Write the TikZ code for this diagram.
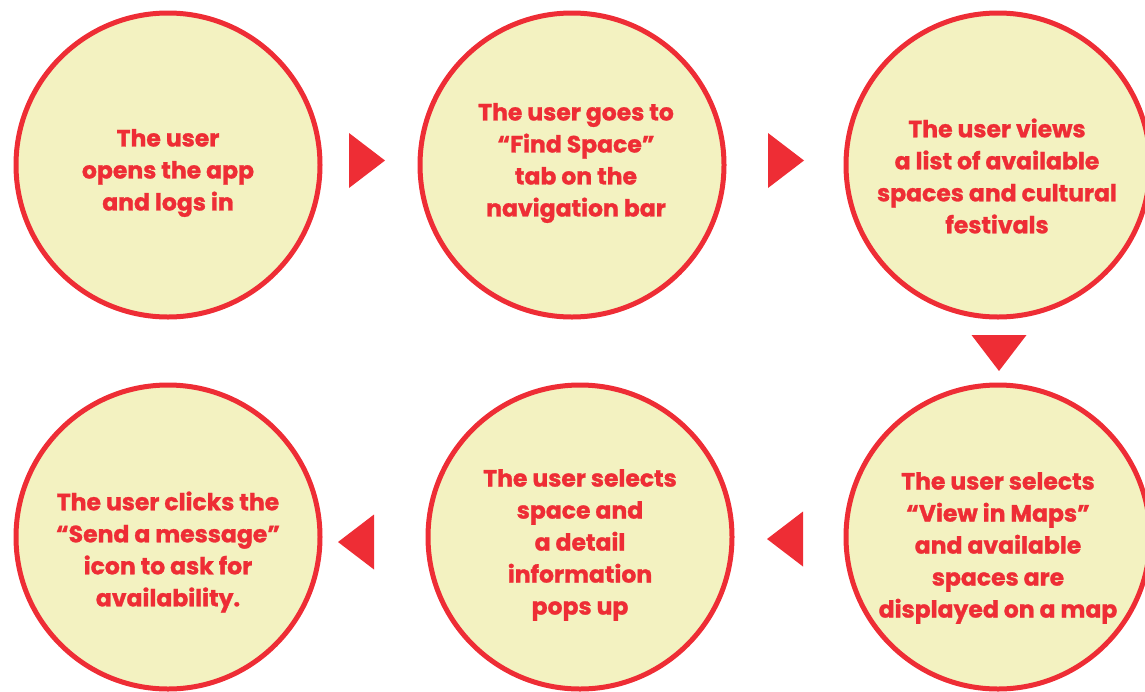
\documentclass[tikz,border=0pt]{standalone}
\usepackage{fontspec}
\newfontfamily\stepfont{Poppins}[BoldFeatures={FakeBold=1.2}]
\definecolor{flowred}{HTML}{EE2D35}
\definecolor{flowfill}{HTML}{F3F2C1}
\tikzset{
  stepcircle/.style={circle, draw=flowred, fill=flowfill, line width=5pt,
    minimum size=304pt, inner sep=0pt},
  steptext/.style={text=flowred, align=center, font=\stepfont\bfseries\fontsize{23.5}{32}\selectfont},
  flowtri/.pic={\fill[flowred] (18,0) -- (-18,27.5) -- (-18,-27.5) -- cycle;}
}
\begin{document}
\begin{tikzpicture}[x=1pt,y=-1pt]
\useasboundingbox (0,0) rectangle (1145,691);
\clip (0,0) rectangle (1145,691);
% the six steps
\node[stepcircle] (c1) at (168,165) {};
\node[stepcircle] (c2) at (572,165) {};
\node[stepcircle] (c3) at (998,165) {};
\node[stepcircle] (c4) at (168,537) {};
\node[stepcircle] (c5) at (580,537) {};
\node[stepcircle] (c6) at (998,537) {};
% step texts
\node[steptext] (t1) at (168,173) {The user\\opens the app\\and logs in};
\node[steptext] (t2) at (576,163) {The user goes to\\“Find Space”\\tab on the\\navigation bar};
\node[steptext] (t3) at (997,176) {The user views\\a list of available\\spaces and cultural\\festivals};
\node[steptext] (t4) at (168,552) {The user clicks the\\“Send a message”\\icon to ask for\\availability.};
\node[steptext] (t5) at (580,545) {The user selects\\space and\\a detail\\information\\pops up};
\node[steptext] (t6) at (998,548) {The user selects\\“View in Maps”\\and available\\spaces are\\displayed on a map};
% direction markers between steps
\coordinate (a12) at (367,160.5);
\coordinate (a23) at (786,160.5);
\coordinate (a36) at (999,353);
\coordinate (a65) at (785,539);
\coordinate (a54) at (356,542);
\pic at (a12) {flowtri};
\pic at (a23) {flowtri};
\pic[rotate=-90] at (a36) {flowtri};
\pic[rotate=180] at (a65) {flowtri};
\pic[rotate=180] at (a54) {flowtri};
\end{tikzpicture}
\end{document}
